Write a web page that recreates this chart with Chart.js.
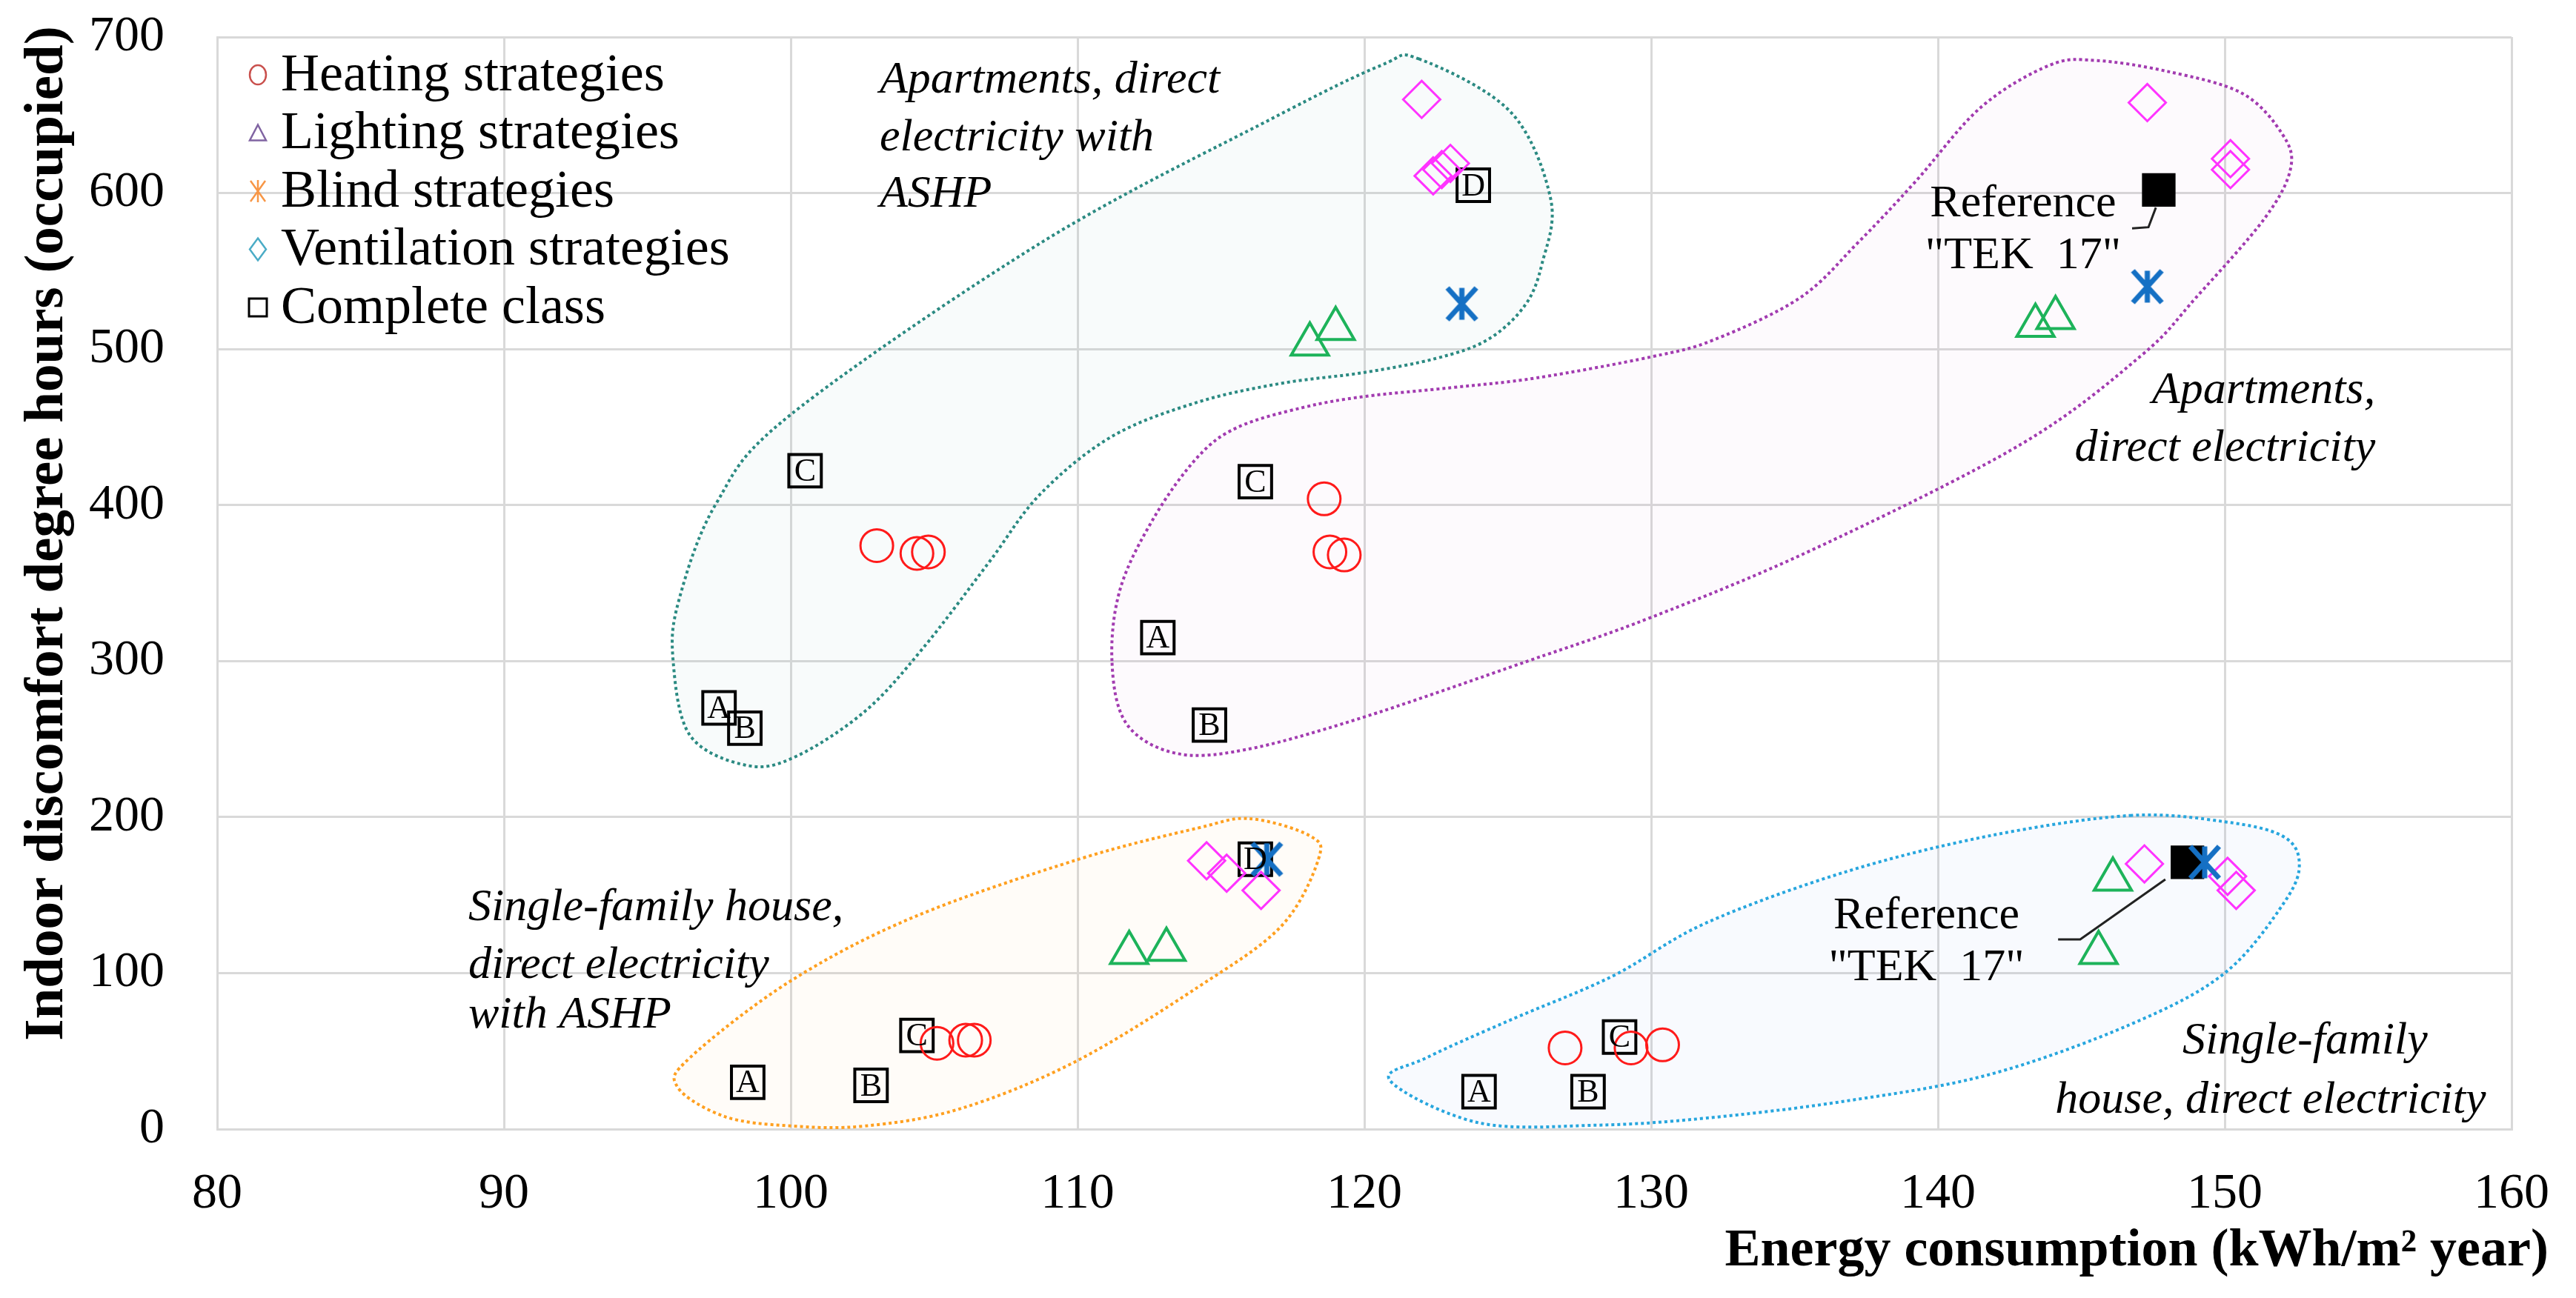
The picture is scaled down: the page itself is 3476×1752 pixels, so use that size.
<!DOCTYPE html>
<html lang="en">
<head>
<meta charset="UTF-8">
<title>Energy consumption vs indoor discomfort</title>
<style>
    * {
        margin: 0;
        padding: 0;
        box-sizing: border-box;
    }

    body {
        background: #fff;
        width: 3476px;
        height: 1752px;
        overflow: hidden;
    }

    #scatter {
        display: block;
    }
</style>
</head>
<body>
<canvas id="scatter" width="3476" height="1752"></canvas>

<script src="https://cdn.jsdelivr.net/npm/chart.js@4.4.1/dist/chart.umd.min.js"></script>
<script>
    // ---- values ----
    var xTicks = [80, 90, 100, 110, 120, 130, 140, 150, 160];
    var yTicks = [0, 100, 200, 300, 400, 500, 600, 700];

    var heatingX = [103.0, 104.4, 104.8, 118.6, 118.8, 119.3, 105.1, 106.1, 106.4, 127.0, 129.3, 130.4];
    var heatingY = [374, 369, 370, 404, 370, 368, 55, 57, 57, 52, 52, 54];

    var lightingX = [118.1, 119.0, 143.4, 144.1, 111.8, 113.1, 146.1, 145.6];
    var lightingY = [503, 513, 515, 520, 113, 115, 160, 113];

    var blindX = [123.4, 147.3, 116.6, 149.3];
    var blindY = [529, 540, 173, 171];

    var ventX = [122.0, 122.4, 122.7, 123.0, 147.3, 150.2, 150.2, 114.5, 115.2, 116.4, 147.2, 150.1, 150.4];
    var ventY = [660, 611, 615, 619, 658, 622, 615, 172, 164, 153, 170, 162, 153];

    var classX = [97.5, 98.4, 100.5, 123.8, 112.8, 114.6, 116.2, 98.5, 102.8, 104.4, 116.2, 124.0, 127.8, 128.9];
    var classY = [270, 257, 422, 605, 315, 259, 415, 30, 28, 60, 173, 24, 24, 59];
    var classLetters = ['A', 'B', 'C', 'D', 'A', 'B', 'C', 'A', 'B', 'C', 'D', 'A', 'B', 'C'];

    var referenceX = [147.7, 148.7];
    var referenceY = [602, 171];

    // group outlines (data units), drawn as closed smooth curves
    var aptAshpOutline = [
        [121.9, 686], [125.1, 652], [126.5, 596], [126.2, 555], [125.6, 528], [124.3, 506],
        [122.5, 494], [120.0, 485], [117.1, 478], [114.2, 466], [111.2, 444], [108.7, 407],
        [106.9, 363], [104.6, 308], [102.6, 268], [100.2, 239], [98.5, 233], [96.5, 252],
        [95.9, 300], [96.1, 339], [97.4, 401], [100.0, 458], [108.8, 569], [116.7, 647],
        [120.6, 682]
    ];
    var aptDirectOutline = [
        [111.2, 300], [111.5, 347], [112.7, 393], [114.2, 431], [115.6, 450], [117.85, 462.5],
        [120.0, 469.6], [123.05, 475.3], [126.0, 481.5], [130.0, 495], [132.2, 506], [135.2, 533],
        [137.2, 568], [139.2, 607], [141.5, 655], [143.9, 682], [145.5, 685], [148.0, 678],
        [150.6, 664], [152.0, 638], [152.3, 616], [151.4, 584], [149.0, 533], [147.1, 496],
        [142.9, 439], [135.7, 372], [130.0, 328], [125.7, 300], [119.8, 263], [115.8, 243],
        [113.4, 241], [111.7, 260]
    ];
    var houseAshpOutline = [
        [116.0, 199], [118.1, 188], [118.4, 173], [117.1, 130], [114.2, 91], [109.9, 43],
        [105.9, 13], [102.6, 2], [100.0, 2], [97.7, 8], [96.05, 27], [96.5, 46],
        [100.0, 95], [104.3, 136], [110.05, 173], [114.2, 193]
    ];
    var houseDirectOutline = [
        [146.7, 201], [150.0, 197], [152.0, 188], [152.6, 171], [152.1, 146], [150.0, 100],
        [146.7, 67], [141.8, 35], [136.8, 18], [131.9, 7], [128.1, 2.5], [124.0, 4],
        [120.9, 31], [122.2, 46], [125.1, 70], [128.65, 98], [131.9, 132], [136.8, 165],
        [141.8, 188]
    ];

    var groups = [
        { pts: aptAshpOutline, line: '#2b8a82', fill: 'rgba(43,138,130,0.03)' },
        { pts: aptDirectOutline, line: '#a23bb0', fill: 'rgba(162,59,176,0.025)' },
        { pts: houseAshpOutline, line: '#ffa020', fill: 'rgba(255,160,32,0.03)' },
        { pts: houseDirectOutline, line: '#27a6de', fill: 'rgba(39,110,222,0.03)' }
    ];

    var notes = [
        { text: 'Apartments, direct', x: 103.1, y: 672, align: 'left', italic: true },
        { text: 'electricity with', x: 103.1, y: 635, align: 'left', italic: true },
        { text: 'ASHP', x: 103.1, y: 599, align: 'left', italic: true },
        { text: 'Apartments,', x: 155.25, y: 473, align: 'right', italic: true },
        { text: 'direct electricity', x: 155.25, y: 436, align: 'right', italic: true },
        { text: 'Single-family house,', x: 88.76, y: 141.5, align: 'left', italic: true },
        { text: 'direct electricity', x: 88.76, y: 104.5, align: 'left', italic: true },
        { text: 'with ASHP', x: 88.76, y: 72.6, align: 'left', italic: true },
        { text: 'Single-family', x: 152.8, y: 56, align: 'center', italic: true },
        { text: 'house, direct electricity', x: 151.6, y: 18, align: 'center', italic: true },
        { text: 'Reference', x: 142.97, y: 592.6, align: 'center', italic: false },
        { text: '"TEK  17"', x: 142.97, y: 559.8, align: 'center', italic: false },
        { text: 'Reference', x: 139.6, y: 136.3, align: 'center', italic: false },
        { text: '"TEK  17"', x: 139.6, y: 103, align: 'center', italic: false }
    ];

    var leaders = [
        [[147.6, 590.7], [147.34, 578.1], [146.77, 577.4]],
        [[147.93, 160], [144.96, 121.6], [144.19, 121.6]]
    ];

    // ---- helpers ----
    function pairs(xs, ys) {
        return xs.map(function (x, i) { return { x: x, y: ys[i] }; });
    }

    function makeAsterisk(size, color, lw) {
        var c = document.createElement('canvas');
        c.width = size;
        c.height = size;
        var g = c.getContext('2d');
        var m = lw / 2 + 1;
        g.strokeStyle = color;
        g.lineWidth = lw;
        g.beginPath();
        g.moveTo(size / 2, m); g.lineTo(size / 2, size - m);
        g.moveTo(m + 2, m); g.lineTo(size - m - 2, size - m);
        g.moveTo(size - m - 2, m); g.lineTo(m + 2, size - m);
        g.stroke();
        return c;
    }

    var FONT = '"Liberation Serif", "Times New Roman", serif';

    function legendMarker(ctx, kind, x, y, color) {
        ctx.save();
        ctx.strokeStyle = color;
        ctx.lineWidth = 2.5;
        ctx.beginPath();
        if (kind === 'circle') {
            ctx.ellipse(x, y, 11, 13, 0, 0, Math.PI * 2);
        } else if (kind === 'triangle') {
            ctx.moveTo(x, y - 11); ctx.lineTo(x + 11, y + 10); ctx.lineTo(x - 11, y + 10); ctx.closePath();
        } else if (kind === 'star') {
            ctx.moveTo(x, y - 15); ctx.lineTo(x, y + 15);
            ctx.moveTo(x - 10, y - 14); ctx.lineTo(x + 10, y + 14);
            ctx.moveTo(x + 10, y - 14); ctx.lineTo(x - 10, y + 14);
        } else if (kind === 'diamond') {
            ctx.moveTo(x, y - 15); ctx.lineTo(x + 11, y); ctx.lineTo(x, y + 15); ctx.lineTo(x - 11, y); ctx.closePath();
        } else {
            ctx.lineWidth = 3;
            ctx.rect(x - 12, y - 12, 24, 24);
        }
        ctx.stroke();
        ctx.restore();
    }

    var annotationPlugin = {
        id: 'annotations',
        beforeDatasetsDraw: function (chart) {
            var ctx = chart.ctx;
            var xs = chart.scales.x, ys = chart.scales.y;
            groups.forEach(function (g) {
                var p = g.pts.map(function (v) { return [xs.getPixelForValue(v[0]), ys.getPixelForValue(v[1])]; });
                var n = p.length;
                ctx.save();
                ctx.beginPath();
                ctx.moveTo(p[0][0], p[0][1]);
                for (var i = 0; i < n; i++) {
                    var p0 = p[(i - 1 + n) % n], p1 = p[i], p2 = p[(i + 1) % n], p3 = p[(i + 2) % n];
                    ctx.bezierCurveTo(
                        p1[0] + (p2[0] - p0[0]) / 6, p1[1] + (p2[1] - p0[1]) / 6,
                        p2[0] - (p3[0] - p1[0]) / 6, p2[1] - (p3[1] - p1[1]) / 6,
                        p2[0], p2[1]);
                }
                ctx.closePath();
                ctx.fillStyle = g.fill;
                ctx.fill();
                ctx.setLineDash([4, 4]);
                ctx.lineWidth = 4;
                ctx.strokeStyle = g.line;
                ctx.stroke();
                ctx.restore();
            });
        },
        afterDatasetsDraw: function (chart) {
            var ctx = chart.ctx;
            var xs = chart.scales.x, ys = chart.scales.y;
            var area = chart.chartArea;

            // letters inside the complete-class squares
            var meta = chart.getDatasetMeta(4);
            ctx.save();
            ctx.fillStyle = '#000';
            ctx.font = '44px ' + FONT;
            ctx.textAlign = 'center';
            ctx.textBaseline = 'middle';
            meta.data.forEach(function (pt, i) {
                ctx.fillText(classLetters[i], pt.x, pt.y + 2);
            });
            ctx.restore();

            // leader lines
            ctx.save();
            ctx.strokeStyle = '#222';
            ctx.lineWidth = 3;
            leaders.forEach(function (l) {
                ctx.beginPath();
                l.forEach(function (v, i) {
                    var px = xs.getPixelForValue(v[0]), py = ys.getPixelForValue(v[1]);
                    if (i === 0) ctx.moveTo(px, py); else ctx.lineTo(px, py);
                });
                ctx.stroke();
            });
            ctx.restore();

            // text notes
            ctx.save();
            ctx.fillStyle = '#000';
            ctx.textBaseline = 'middle';
            notes.forEach(function (n) {
                ctx.font = (n.italic ? 'italic 62px ' : '62px ') + FONT;
                ctx.textAlign = n.align;
                ctx.fillText(n.text, xs.getPixelForValue(n.x), ys.getPixelForValue(n.y));
            });
            ctx.restore();

            // legend (upper-left inside plot)
            ctx.save();
            ctx.font = '72px ' + FONT;
            ctx.fillStyle = '#000';
            ctx.textAlign = 'left';
            ctx.textBaseline = 'middle';
            chart.data.datasets.forEach(function (ds, i) {
                if (!ds.legendKind) return;
                var y = area.top + 51 + i * 78.5;
                legendMarker(ctx, ds.legendKind, area.left + 55, y, ds.legendColor);
                ctx.fillText(ds.label, area.left + 86, y + 2);
            });
            ctx.restore();
        },
        afterDraw: function (chart) {
            var ctx = chart.ctx;
            var area = chart.chartArea;
            ctx.save();
            ctx.fillStyle = '#000';
            ctx.font = 'bold 72px ' + FONT;
            ctx.textBaseline = 'middle';
            ctx.textAlign = 'right';
            ctx.fillText('Energy consumption (kWh/m\u00B2 year)', area.right + 50, 1689);
            ctx.translate(65, area.top + 670);
            ctx.rotate(-Math.PI / 2);
            ctx.textAlign = 'center';
            ctx.font = 'bold 75px ' + FONT;
            ctx.fillText('Indoor discomfort degree hours (occupied)', 0, 0);
            ctx.restore();
        }
    };

    var tickFont = { family: 'Liberation Serif', size: 68 };

    var ctx = document.getElementById('scatter').getContext('2d');
    var chart = new Chart(ctx, {
        type: 'scatter',
        data: {
            datasets: [
                {
                    label: 'Heating strategies',
                    data: pairs(heatingX, heatingY),
                    pointStyle: 'circle',
                    pointRadius: 22,
                    borderWidth: 3,
                    borderColor: '#ff1a1a',
                    backgroundColor: 'rgba(0,0,0,0)',
                    legendKind: 'circle',
                    legendColor: '#c9504d'
                },
                {
                    label: 'Lighting strategies',
                    data: pairs(lightingX, lightingY),
                    pointStyle: 'triangle',
                    pointRadius: 29,
                    borderWidth: 4,
                    borderColor: '#1db35a',
                    backgroundColor: 'rgba(0,0,0,0)',
                    legendKind: 'triangle',
                    legendColor: '#8064a2'
                },
                {
                    label: 'Blind strategies',
                    data: pairs(blindX, blindY),
                    pointStyle: makeAsterisk(52, '#1570c4', 7),
                    pointRadius: 26,
                    legendKind: 'star',
                    legendColor: '#f79646'
                },
                {
                    label: 'Ventilation strategies',
                    data: pairs(ventX, ventY),
                    pointStyle: 'rectRot',
                    pointRadius: 25,
                    borderWidth: 3,
                    borderColor: '#ff33ff',
                    backgroundColor: 'rgba(0,0,0,0)',
                    legendKind: 'diamond',
                    legendColor: '#4bacc6'
                },
                {
                    label: 'Complete class',
                    data: pairs(classX, classY),
                    pointStyle: 'rect',
                    pointRadius: 31,
                    borderWidth: 4,
                    borderColor: '#000',
                    backgroundColor: 'rgba(0,0,0,0)',
                    legendKind: 'square',
                    legendColor: '#000'
                },
                {
                    label: 'Reference "TEK 17"',
                    data: pairs(referenceX, referenceY),
                    pointStyle: 'rect',
                    pointRadius: 32,
                    borderWidth: 0,
                    backgroundColor: '#000'
                }
            ]
        },
        options: {
            responsive: false,
            animation: false,
            devicePixelRatio: 1,
            events: [],
            layout: { padding: { top: 50, right: 87, bottom: 0, left: 0 } },
            plugins: {
                legend: { display: false },
                tooltip: { enabled: false }
            },
            scales: {
                x: {
                    type: 'linear',
                    min: xTicks[0],
                    max: xTicks[xTicks.length - 1],
                    afterBuildTicks: function (s) { s.ticks = xTicks.map(function (v) { return { value: v }; }); },
                    ticks: { color: '#000', font: tickFont, padding: 47, maxRotation: 0 },
                    grid: { color: '#d9d9d9', lineWidth: 3, drawTicks: false },
                    border: { color: '#d9d9d9', width: 3 },
                    afterFit: function (s) {
                        s.height = 228;
                        s.paddingLeft = 0;
                        s.paddingRight = 0;
                    }
                },
                y: {
                    type: 'linear',
                    min: yTicks[0],
                    max: yTicks[yTicks.length - 1],
                    afterBuildTicks: function (s) { s.ticks = yTicks.map(function (v) { return { value: v }; }); },
                    ticks: { color: '#000', font: tickFont, padding: 71 },
                    grid: { color: '#d9d9d9', lineWidth: 3, drawTicks: false },
                    border: { color: '#d9d9d9', width: 3 },
                    afterFit: function (s) {
                        s.width = 293;
                        s.paddingTop = 0;
                        s.paddingBottom = 0;
                    }
                }
            }
        },
        plugins: [annotationPlugin]
    });
</script>
</body>
</html>
